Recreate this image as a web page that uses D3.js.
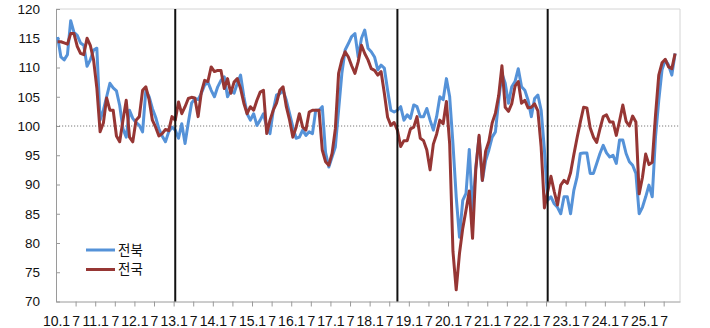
<!DOCTYPE html>
<html>
<head>
<meta charset="utf-8">
<script src="https://cdn.jsdelivr.net/npm/d3@7"></script>
<style>
  body { margin: 0; background: #fff; }
  svg { display: block; font-family: "Noto Sans CJK KR", "Noto Sans", sans-serif; }
</style>
</head>
<body>
<div id="chart"></div>
<script>
// 전북 (monthly, from 10.1)
const jeonbuk = [
  115.2, 111.8, 111.3, 112.2, 118.0, 116.0, 115.5, 114.2, 113.8, 110.2, 111.3, 113.0,
  113.3, 101.0, 102.7, 105.0, 107.3, 106.5, 106.0, 103.5, 99.5, 98.1, 102.7, 101.3,
  100.6, 100.1, 99.0, 106.1, 105.0, 103.0, 101.5, 99.5, 98.3, 97.3, 99.0, 99.8,
  99.3, 97.9, 100.4, 97.0, 100.6, 103.9, 104.7, 104.5, 105.6, 107.0, 107.5, 106.1,
  105.0, 106.7, 107.8, 108.4, 105.0, 106.1, 105.6, 107.3, 108.7, 105.0, 102.1, 101.0,
  102.1, 100.1, 101.0, 102.1, 99.8, 98.7, 102.7, 105.3, 105.5, 106.1, 104.4, 102.1,
  99.8, 97.9, 98.1, 99.3, 98.4, 99.0, 98.7, 102.7, 102.7, 103.3, 95.5, 93.0,
  94.7, 96.4, 102.7, 109.0, 113.0, 114.1, 115.3, 115.8, 111.8, 115.0, 116.4, 113.3,
  112.7, 111.8, 109.6, 110.4, 109.9, 106.1, 102.7, 102.4, 102.7, 103.3, 101.0, 101.9,
  101.3, 103.6, 103.3, 101.6, 101.6, 103.0, 101.0, 99.3, 101.6, 105.0, 104.5, 108.1,
  105.0, 97.0, 87.9, 81.0, 87.3, 88.5, 96.0, 85.6, 93.0, 98.1, 90.7, 94.1,
  95.9, 98.1, 99.0, 104.4, 109.0, 107.3, 103.9, 106.7, 107.6, 109.8, 106.7, 106.1,
  104.4, 101.6, 104.7, 105.3, 102.7, 95.9, 87.3, 87.9, 86.7, 86.1, 85.0, 87.9,
  87.9, 85.0, 89.0, 91.3, 95.3, 95.4, 95.4, 91.9, 91.9, 93.6, 95.3, 96.7,
  95.4, 94.7, 95.0, 93.6, 97.6, 97.6, 95.3, 93.9, 93.3, 91.9, 85.0, 86.1,
  87.9, 89.9, 87.9, 98.1, 104.4, 109.6, 111.3, 110.4, 108.7, 112.4
];

// 전국
const national = [
  114.4, 114.4, 114.2, 114.0, 115.8, 115.8, 113.6, 112.4, 112.2, 115.0, 113.8, 111.3,
  106.5, 99.0, 100.5, 104.8, 102.7, 102.7, 98.3, 97.3, 101.0, 104.4, 98.1, 97.3,
  101.0, 101.6, 106.1, 106.7, 104.5, 101.0, 99.8, 98.3, 98.7, 99.4, 99.2, 101.6,
  101.0, 104.1, 102.1, 103.3, 104.7, 104.9, 104.8, 101.6, 105.8, 107.8, 107.6, 110.1,
  109.3, 109.5, 109.5, 106.4, 108.1, 105.6, 107.5, 108.1, 106.4, 103.9, 102.1, 103.3,
  102.7, 104.4, 105.8, 106.1, 98.7, 101.0, 102.7, 103.9, 106.1, 106.7, 103.3, 101.0,
  98.1, 99.8, 102.1, 99.8, 99.3, 102.4, 102.7, 102.7, 102.7, 95.9, 93.9, 93.3,
  95.3, 99.5, 109.0, 111.3, 112.7, 111.8, 110.3, 109.0, 111.0, 113.8, 112.4, 111.3,
  109.8, 109.5, 108.7, 109.3, 105.6, 101.5, 100.1, 100.6, 99.3, 96.5, 97.5, 97.5,
  99.5, 99.8, 101.6, 97.9, 97.5, 95.9, 92.5, 96.9, 98.6, 101.0, 100.4, 104.2,
  96.9, 78.6, 72.0, 78.2, 82.5, 85.6, 88.9, 80.8, 92.6, 98.4, 90.7, 95.7,
  97.4, 100.5, 102.2, 105.2, 110.3, 103.2, 102.5, 103.8, 106.8, 107.6, 103.9, 104.4,
  103.1, 103.2, 103.8, 102.6, 96.4, 86.0, 88.8, 91.4, 88.8, 86.5, 89.9, 90.7,
  90.2, 92.0, 95.1, 98.0, 100.7, 103.2, 103.1, 99.7, 98.1, 97.2, 99.5, 101.6,
  101.9, 100.7, 100.7, 98.4, 100.9, 103.6, 100.8, 100.0, 101.7, 100.7, 88.4, 91.2,
  95.2, 93.4, 93.8, 101.8, 108.7, 110.8, 111.4, 110.1, 109.8, 112.4
];

const tickLabels = ['10.1', '7', '11.1', '7', '12.1', '7', '13.1', '7', '14.1', '7', '15.1', '7',
  '16.1', '7', '17.1', '7', '18.1', '7', '19.1', '7', '20.1', '7', '21.1', '7',
  '22.1', '7', '23.1', '7', '24.1', '7', '25.1', '7'];
const yTicks = [70, 75, 80, 85, 90, 95, 100, 105, 110, 115, 120];
const dividers = [36, 104, 150]; // month index of the black lines
const seriesNames = ['전북', '전국'];
const seriesColors = ['#5592d8', '#963634'];

const W = 710, H = 328;
const plot = { left: 56, right: 680, top: 9, bottom: 301.5 };

const svg = d3.select('#chart').append('svg')
  .attr('width', W)
  .attr('height', H);

const x = d3.scaleLinear().domain([-0.5, 190.5]).range([plot.left, plot.right]);
const y = d3.scaleLinear().domain([70, 120]).range([plot.bottom, plot.top]);

// plot border (top / right)
svg.append('path')
  .attr('d', `M${plot.left},${plot.top}H${plot.right}V${plot.bottom}`)
  .attr('fill', 'none')
  .attr('stroke', '#d4d4d4')
  .attr('stroke-width', 1);

// y axis, ticks inside
const yAxis = svg.append('g')
  .attr('transform', `translate(${plot.left},0)`)
  .call(d3.axisLeft(y).tickValues(yTicks).tickSizeInner(-4).tickSizeOuter(0).tickPadding(16));
yAxis.select('.domain').attr('stroke', '#9a9a9a');
yAxis.selectAll('.tick line').attr('stroke', '#9a9a9a');
yAxis.selectAll('text').attr('font-size', 13.5).attr('fill', '#111');

// x axis
const tickPos = tickLabels.map((t, k) => 6 * k - 0.5);
const xAxis = svg.append('g')
  .attr('transform', `translate(0,${plot.bottom})`)
  .call(d3.axisBottom(x).tickValues(tickPos).tickFormat((d, i) => tickLabels[i])
    .tickSizeInner(5).tickSizeOuter(0).tickPadding(9.5));
xAxis.select('.domain').attr('stroke', '#9a9a9a');
xAxis.selectAll('.tick line').attr('stroke', '#9a9a9a');
xAxis.selectAll('.tick').filter((d, i) => i === 0).select('line').remove();
xAxis.selectAll('text').attr('font-size', 14).attr('fill', '#111');

// 100 reference
svg.append('line')
  .attr('x1', plot.left).attr('x2', plot.right)
  .attr('y1', y(100)).attr('y2', y(100))
  .attr('stroke', '#7a7a7a')
  .attr('stroke-width', 1)
  .attr('stroke-dasharray', '1.2,1.8');

const line = d3.line()
  .x((d, i) => x(i))
  .y(d => y(d));

[jeonbuk, national].forEach((s, k) => {
  svg.append('path')
    .datum(s)
    .attr('d', line)
    .attr('fill', 'none')
    .attr('stroke', seriesColors[k])
    .attr('stroke-width', 3)
    .attr('stroke-linejoin', 'round');
});

// black dividers
svg.selectAll('.divider')
  .data(dividers)
  .join('line')
  .attr('class', 'divider')
  .attr('x1', d => x(d)).attr('x2', d => x(d))
  .attr('y1', plot.top).attr('y2', plot.bottom)
  .attr('stroke', '#111')
  .attr('stroke-width', 2);

// legend
const legend = svg.append('g').attr('transform', 'translate(86,250)');
seriesNames.forEach((name, k) => {
  const g = legend.append('g').attr('transform', `translate(0,${k * 19.5})`);
  g.append('line')
    .attr('x1', 0).attr('x2', 29)
    .attr('stroke', seriesColors[k])
    .attr('stroke-width', 3);
  g.append('text')
    .attr('x', 32)
    .attr('dy', '0.35em')
    .attr('font-size', 13.5)
    .attr('fill', '#111')
    .text(name);
});
</script>
</body>
</html>
